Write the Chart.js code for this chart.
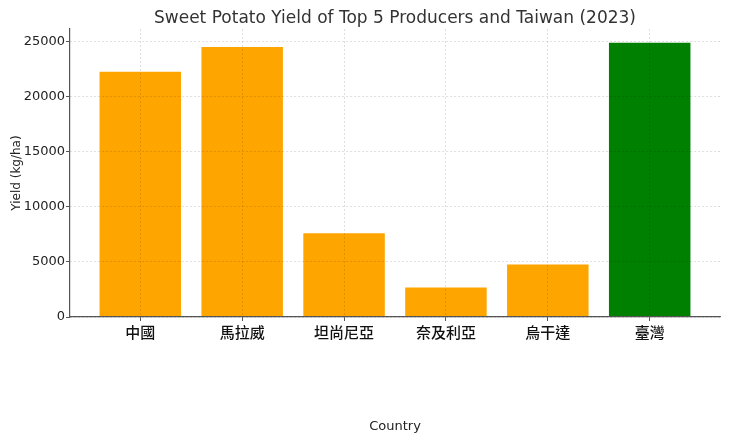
<!DOCTYPE html>
<html>
<head>
<meta charset="utf-8">
<script src="https://cdn.jsdelivr.net/npm/chart.js@4"></script>
<style>
  html, body { margin: 0; padding: 0; background: #fff; }
  #wrap { width: 740px; height: 444px; }
</style>
</head>
<body>
<div id="wrap"><canvas id="yieldChart" width="740" height="444"></canvas></div>
<script>
"use strict";

const countries = ["中國", "馬拉威", "坦尚尼亞", "奈及利亞", "烏干達", "臺灣"];
const yields = [22240, 24480, 7590, 2680, 4770, 24880];
const barColors = ["#FFA500", "#FFA500", "#FFA500", "#FFA500", "#FFA500", "#008000"];
const yTicks = [0, 5000, 10000, 15000, 20000, 25000];

// grid drawn over the bars, like the original
const gridStyle = () => ({
    z: 1,
    offset: false,
    color: "rgba(0, 0, 0, 0.16)",
    lineWidth: 0.8,
    tickColor: "#555",
    tickLength: 4,
    tickWidth: 1,
    tickBorderDash: []
});
const borderStyle = () => ({
    display: true,
    z: 1,
    color: "#555",
    width: 1.2,
    dash: [2, 2]
});

const ctx = document.getElementById("yieldChart").getContext("2d");

new Chart(ctx, {
    type: "bar",
    data: {
        datasets: [{
            label: "Yield (kg/ha)",
            data: yields.map((v, i) => ({ x: i, y: v })),
            backgroundColor: barColors,
            borderWidth: 0,
            barPercentage: 0.8,
            categoryPercentage: 1.0
        }]
    },
    options: {
        responsive: false,
        animation: false,
        layout: { padding: { left: 0, right: 20, top: 0, bottom: 0 } },
        scales: {
            x: {
                type: "linear",
                position: "bottom",
                min: -0.69,
                max: 5.69,
                offset: false,
                grid: gridStyle(),
                border: borderStyle(),
                ticks: {
                    stepSize: 1,
                    includeBounds: false,
                    padding: 2,
                    color: "#111",
                    font: { family: "'Noto Sans CJK TC', sans-serif", size: 15, weight: "500" },
                    callback: v => countries[v] ?? ""
                },
                title: {
                    display: true,
                    text: "Country",
                    color: "#222",
                    font: { family: "'DejaVu Sans', sans-serif", size: 13 },
                    padding: { top: 4, bottom: 10 }
                },
                afterFit: scale => { scale.height = 127; }
            },
            x2: {
                type: "linear",
                position: "top",
                grid: { display: false, drawTicks: false },
                border: { display: false },
                ticks: { display: false },
                title: {
                    display: true,
                    text: "Sweet Potato Yield of Top 5 Producers and Taiwan (2023)",
                    color: "#333",
                    font: { family: "'DejaVu Sans', sans-serif", size: 17 },
                    padding: { top: 8, bottom: 0 }
                },
                afterFit: scale => { scale.height = 29; }
            },
            y: {
                min: 0,
                max: 26124,
                grid: gridStyle(),
                border: borderStyle(),
                afterBuildTicks: scale => {
                    scale.ticks = yTicks.map(v => ({ value: v }));
                },
                ticks: {
                    padding: 1,
                    color: "#222",
                    font: { family: "'DejaVu Sans', sans-serif", size: 13 },
                    callback: v => String(v)
                },
                title: {
                    display: true,
                    text: "Yield (kg/ha)",
                    color: "#222",
                    font: { family: "'DejaVu Sans', sans-serif", size: 12 },
                    padding: { top: 10, bottom: 0 }
                },
                afterFit: scale => { scale.width = 70; }
            }
        },
        plugins: {
            legend: { display: false },
            tooltip: { enabled: false },
            title: { display: false }
        }
    }
});
</script>
</body>
</html>
